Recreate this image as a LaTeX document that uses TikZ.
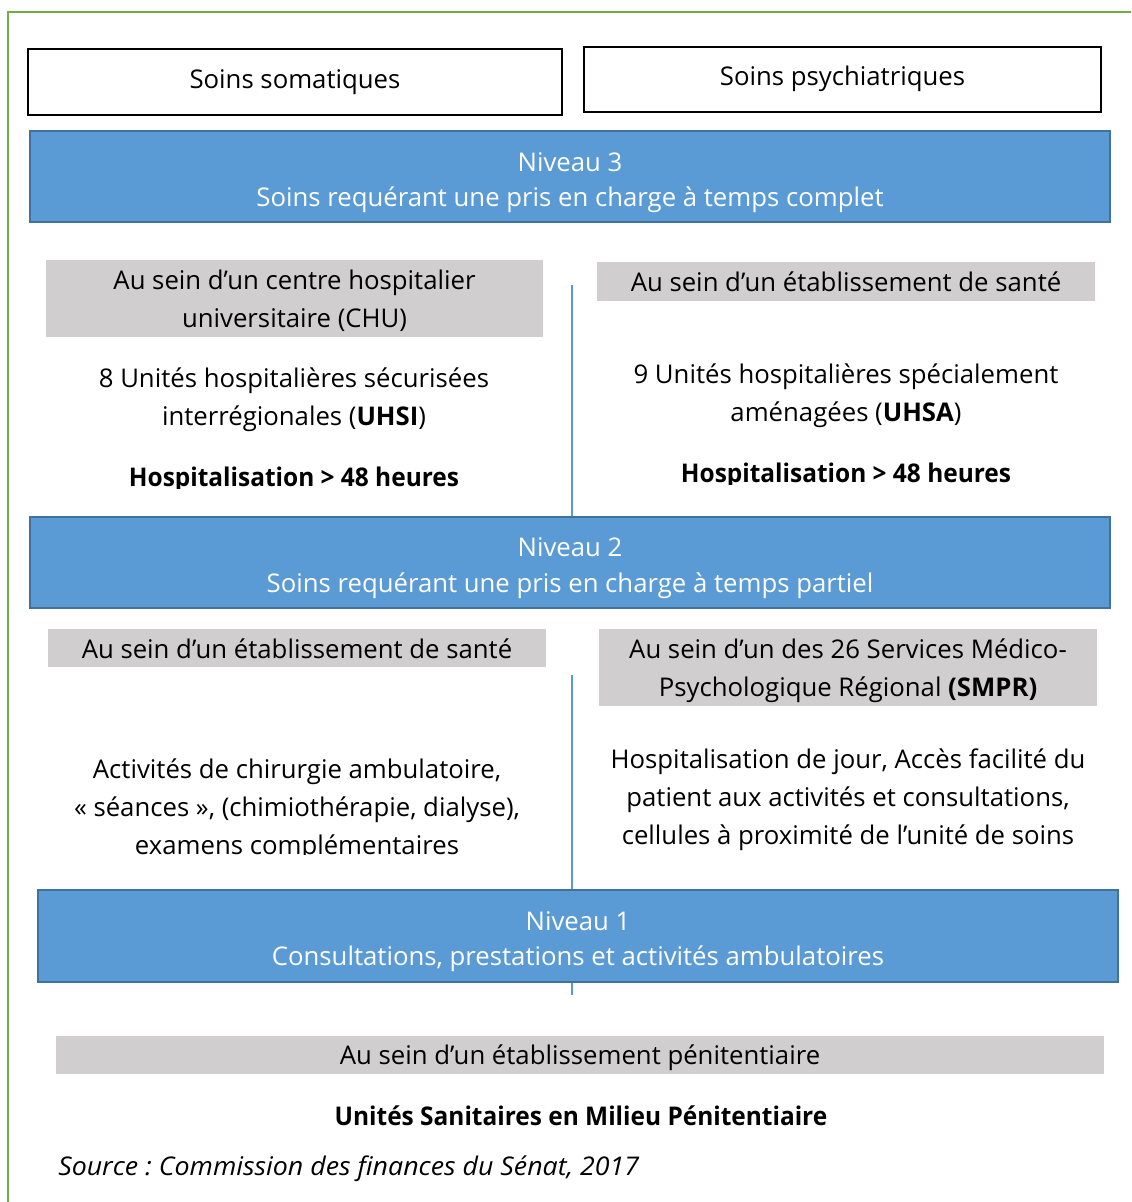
\documentclass[tikz,border=0pt]{standalone}
\usepackage{fontspec}
\setmainfont{Open Sans}
\newfontfamily\boldnarrow[FakeStretch=0.95]{Open Sans}
\newfontfamily\italwide[FakeStretch=1.04]{Open Sans}
\def\u{0.75pt}
\definecolor{nblue}{HTML}{5B9BD5}
\definecolor{nborder}{HTML}{41719C}
\definecolor{ngray}{HTML}{D0CECE}
\definecolor{ngreen}{HTML}{70AD47}
\begin{document}
\frenchspacing
\begin{tikzpicture}[x=0.75pt,y=-0.75pt,
  txt/.style={inner sep=0pt,align=center,font=\fontsize{19.3}{28.5}\selectfont},
  lvltxt/.style={txt,text=white,font=\fontsize{19.3}{26.5}\selectfont},
  boldtxt/.style={txt,font=\fontsize{19.3}{28.5}\selectfont\boldnarrow\bfseries},
  srctxt/.style={txt,font=\fontsize{19.3}{28.5}\selectfont\italwide\itshape},
  headbox/.style={inner sep=0pt,draw=black,line width=1.2pt,fill=white},
  levelbox/.style={inner sep=0pt,draw=nborder,line width=2pt,fill=nblue,minimum width=1080*\u,minimum height=91*\u},
  graybox/.style={inner sep=0pt,fill=ngray,minimum height=38*\u},
  vline/.style={draw=nblue,line width=1.1pt},
  frame/.style={draw=ngreen,line width=2.2pt}]
\useasboundingbox (0,0) rectangle (1131,1202);
% frame
\draw[frame] (8,1202) -- (8,12) -- (1131,12);
% vertical separators
\coordinate (v1) at (572,285);
\coordinate (v2) at (572,517);
\coordinate (v3) at (572,675);
\coordinate (v4) at (572,995);
\draw[vline] (v1) -- (v2);
\draw[vline] (v3) -- (v4);
% headers
\node[headbox,minimum width=534*\u,minimum height=66*\u] (som) at (295,82) {};
\node[txt] (somt) at (295,82) {Soins somatiques};
\node[headbox,minimum width=517*\u,minimum height=65*\u] (psy) at (842.5,79.5) {};
\node[txt] (psyt) at (842.5,79) {Soins psychiatriques};
% level 3
\node[levelbox] (n3) at (570,176.5) {};
\node[lvltxt] (n3t) at (570,182.5) {Niveau 3\\Soins requérant une pris en charge à temps complet};
\node[graybox,minimum width=497*\u,minimum height=77*\u] (g3l) at (294.5,298.5) {};
\node[txt] (g3lt) at (294.5,300.5) {Au sein d’un centre hospitalier\\universitaire (CHU)};
\node[graybox,minimum width=498*\u,minimum height=39*\u] (g3r) at (846,281.5) {};
\node[txt] (g3rt) at (846,281.5) {Au sein d’un établissement de santé};
\node[txt] (t3l) at (294,400) {8 Unités hospitalières sécurisées\\interrégionales (\textbf{UHSI})};
\node[txt] (t3r) at (846,396) {9 Unités hospitalières spécialement\\aménagées (\textbf{UHSA})};
\begin{scope}
\clip (40,450) rectangle (560,488);
\node[boldtxt] (h3l) at (294,480) {Hospitalisation > 48 heures};
\end{scope}
\begin{scope}
\clip (590,446) rectangle (1100,484);
\node[boldtxt] (h3r) at (846,476) {Hospitalisation > 48 heures};
\end{scope}
% level 2
\node[levelbox] (n2) at (570,562.5) {};
\node[lvltxt] (n2t) at (570,568) {Niveau 2\\Soins requérant une pris en charge à temps partiel};
\node[graybox,minimum width=498*\u] (g2l) at (297,648) {};
\node[txt] (g2lt) at (297,649) {Au sein d’un établissement de santé};
\node[graybox,minimum width=498*\u,minimum height=77*\u] (g2r) at (848,667.5) {};
\node[txt] (g2rt) at (848,670.5) {Au sein d’un des 26 Services Médico-\\Psychologique Régional \textbf{(SMPR)}};
\begin{scope}
\clip (40,740) rectangle (560,854);
\node[txt] (t2l) at (297,810) {Activités de chirurgie ambulatoire,\\« séances », (chimiothérapie, dialyse),\\examens complémentaires};
\end{scope}
\node[txt] (t2r) at (848,800) {Hospitalisation de jour, Accès facilité du\\patient aux activités et consultations,\\cellules à proximité de l’unité de soins};
% level 1
\node[levelbox,minimum height=92*\u] (n1) at (578,936) {};
\node[lvltxt] (n1t) at (578,941.5) {Niveau 1\\Consultations, prestations et activités ambulatoires};
\node[graybox,minimum width=1048*\u] (g1) at (580,1055) {};
\node[txt] (g1t) at (580,1058) {Au sein d’un établissement pénitentiaire};
\node[boldtxt] (t1) at (581,1116) {Unités Sanitaires en Milieu Pénitentiaire};
\node[srctxt,anchor=west] (src) at (58,1169) {Source : Commission des finances du Sénat, 2017};
\end{tikzpicture}
\end{document}
